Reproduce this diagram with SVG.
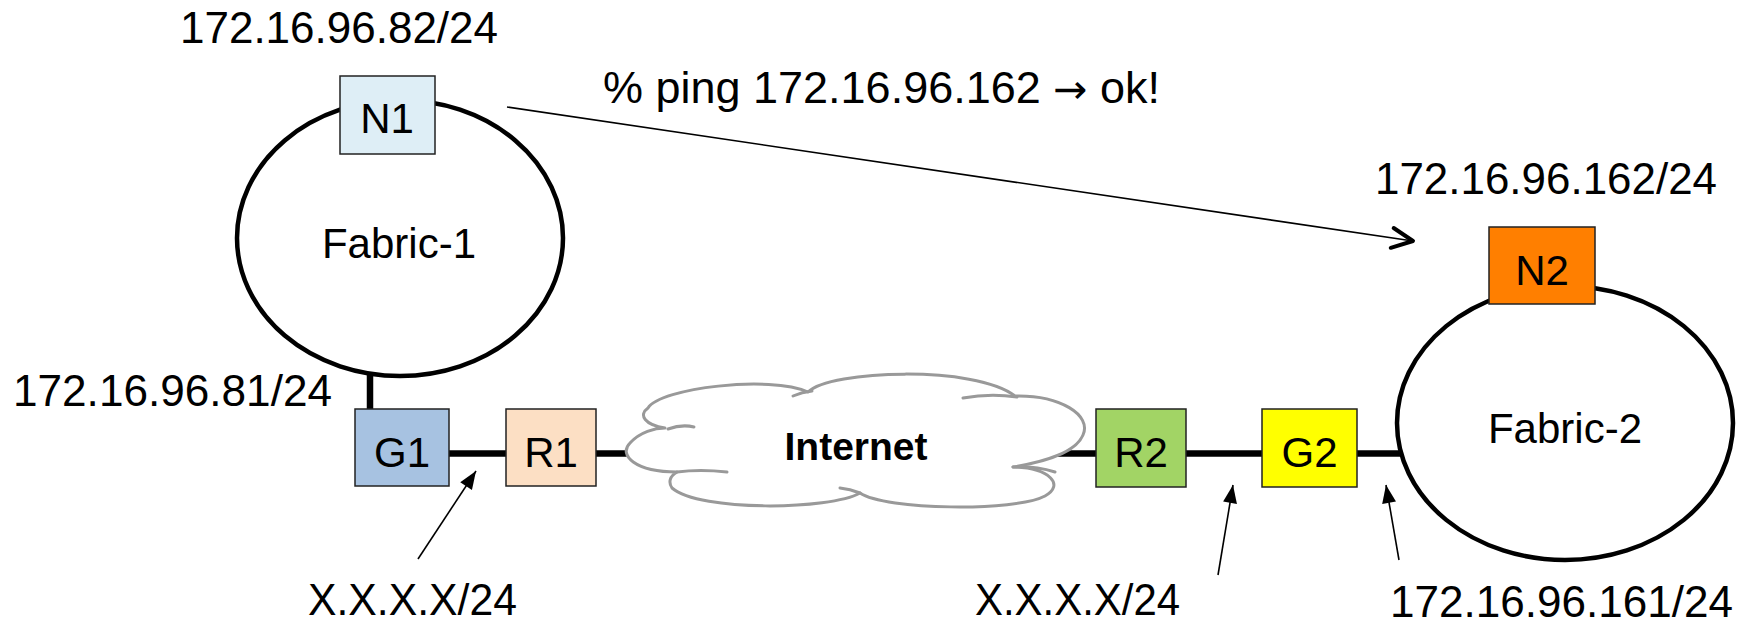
<svg xmlns="http://www.w3.org/2000/svg" width="1744" height="624" viewBox="0 0 1744 624">
<style>
.t{font-family:"Liberation Sans",Arial,sans-serif;font-size:44px;fill:#000}
.n{font-family:"Liberation Sans",Arial,sans-serif;font-size:42px;fill:#000;text-anchor:middle}
.box{stroke:#222;stroke-width:1.5}
.fab{fill:#fff;stroke:#000;stroke-width:4.5}
.thick{stroke:#000;stroke-width:6.5;fill:none}
.thin{stroke:#000;stroke-width:1.6;fill:none}
.cloud{fill:#fff;stroke:#999;stroke-width:3;stroke-linejoin:round}
.hook{fill:none;stroke:#999;stroke-width:3;stroke-linecap:round}
</style>
<defs>
<marker id="tri" markerUnits="userSpaceOnUse" markerWidth="20" markerHeight="16" refX="18" refY="7" orient="auto" overflow="visible">
<path d="M0,0 L18,7 L0,14 Z" fill="#000"/>
</marker>
<marker id="open" markerUnits="userSpaceOnUse" markerWidth="28" markerHeight="26" refX="22" refY="11" orient="auto" overflow="visible">
<path d="M1,1 L22,11 L1,21" fill="none" stroke="#000" stroke-width="4" stroke-linecap="round" stroke-linejoin="round"/>
</marker>
</defs>

<g id="connectors">
<line class="thick" x1="370" y1="371" x2="370" y2="409"/>
<line class="thick" x1="449" y1="453.5" x2="506" y2="453.5"/>
<line class="thick" x1="596" y1="453.5" x2="632" y2="453.5"/>
<line class="thick" x1="1055" y1="453.5" x2="1096" y2="453.5"/>
<line class="thick" x1="1186" y1="453.5" x2="1262" y2="453.5"/>
<line class="thick" x1="1357" y1="453.5" x2="1404" y2="453.5"/>
<line class="thin" x1="507" y1="107" x2="1413" y2="241" marker-end="url(#open)"/>
<line class="thin" x1="418" y1="559" x2="476" y2="471" marker-end="url(#tri)"/>
<line class="thin" x1="1218" y1="575" x2="1233" y2="485" marker-end="url(#tri)"/>
<line class="thin" x1="1399" y1="560" x2="1386" y2="485" marker-end="url(#tri)"/>
</g>

<g id="fabric1">
<ellipse class="fab" cx="400" cy="238" rx="163" ry="138"/>
<text class="n" x="399" y="258">Fabric-1</text>
</g>

<g id="fabric2">
<ellipse class="fab" cx="1565" cy="423" rx="168" ry="137"/>
<text class="n" x="1565" y="443">Fabric-2</text>
</g>

<g id="internet">
<path class="cloud" d="M665,428 C645,425 638,415 648,408 C660,388 770,375 808,392 C830,370 975,365 1015,396 C1060,395 1092,415 1083,435 C1076,452 1045,462 1013,467 C1050,468 1065,485 1045,496 C1015,512 885,510 860,493 C830,510 700,512 672,488 C668,482 670,476 677,472 C635,472 618,455 630,443 C640,432 655,428 665,428 Z"/>
<path class="hook" d="M668,429 Q682,424 694,427"/>
<path class="hook" d="M793,396 Q802,392 812,391"/>
<path class="hook" d="M963,398 Q990,393 1017,397"/>
<path class="hook" d="M1013,467 Q1035,466 1055,472"/>
<path class="hook" d="M860,493 Q850,489 840,488"/>
<path class="hook" d="M727,472 Q700,469 677,472"/>
<text x="856" y="460" font-family="Liberation Sans, Arial, sans-serif" font-size="38" font-weight="bold" text-anchor="middle" textLength="143" lengthAdjust="spacingAndGlyphs">Internet</text>
</g>

<g id="N1">
<rect class="box" x="340" y="76" width="95" height="78" fill="#DEEEF6"/>
<text class="n" x="387" y="133">N1</text>
</g>
<g id="G1">
<rect class="box" x="355" y="409" width="94" height="77" fill="#A7C2E1"/>
<text class="n" x="402" y="467">G1</text>
</g>
<g id="R1">
<rect class="box" x="506" y="409" width="90" height="77" fill="#FCDFC4"/>
<text class="n" x="551" y="467">R1</text>
</g>
<g id="R2">
<rect class="box" x="1096" y="409" width="90" height="78" fill="#A2D465"/>
<text class="n" x="1141" y="467">R2</text>
</g>
<g id="G2">
<rect class="box" x="1262" y="409" width="95" height="78" fill="#FFFF00"/>
<text class="n" x="1309.5" y="467">G2</text>
</g>
<g id="N2">
<rect class="box" x="1489" y="227" width="106" height="77" fill="#FF7F00"/>
<text class="n" x="1542" y="285">N2</text>
</g>

<g id="labels">
<text class="t" x="180" y="43" textLength="318" lengthAdjust="spacingAndGlyphs">172.16.96.82/24</text>
<text class="t" x="13" y="406" textLength="319" lengthAdjust="spacingAndGlyphs">172.16.96.81/24</text>
<text class="t" x="1375" y="194" textLength="342" lengthAdjust="spacingAndGlyphs">172.16.96.162/24</text>
<text class="t" x="1390" y="617" textLength="343" lengthAdjust="spacingAndGlyphs">172.16.96.161/24</text>
<text class="t" x="603" y="103" textLength="557" lengthAdjust="spacingAndGlyphs">% ping 172.16.96.162 <tspan font-family="DejaVu Sans, sans-serif" font-size="40">→</tspan> ok!</text>
<text class="t" x="308" y="615" textLength="209" lengthAdjust="spacingAndGlyphs">X.X.X.X/24</text>
<text class="t" x="975" y="615" textLength="205" lengthAdjust="spacingAndGlyphs">X.X.X.X/24</text>
</g>
</svg>
